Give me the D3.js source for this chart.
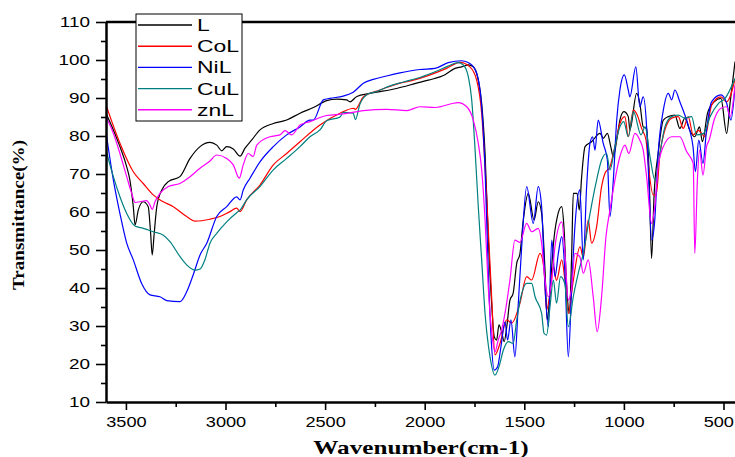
<!DOCTYPE html>
<html>
<head>
<meta charset="utf-8">
<script src="https://cdn.jsdelivr.net/npm/d3@7"></script>
<style>
  body { margin: 0; background: #fff; }
  .series { fill: none; stroke-width: 1.2; }
</style>
</head>
<body>
<svg id="chart" width="735" height="457"></svg>
<script>
// FTIR spectra, values: [wavenumber, transmittance]
var seriesNames = ["L", "CoL", "NiL", "CuL", "znL"];
var seriesColors = ["#000000", "#ff0000", "#0000ff", "#008080", "#ff00ff"];

var dataL = [[3600,86],[3563,81.6],[3530,77.2],[3496,71.9],[3480,68.4],[3463,61.4],[3454,56.6],[3438,60.5],[3413,62.7],[3388,61.4],[3376,54.4],[3368,48.7],[3358,54.4],[3345,61.4],[3320,65.8],[3287,68.0],[3229,69.3],[3178,74.1],[3128,77.2],[3078,78.3],[3044,77.6],[3019,76.1],[2994,77.2],[2961,76.6],[2927,74.7],[2902,76.8],[2869,78.9],[2827,81.6],[2760,83.3],[2693,84.2],[2626,86.0],[2559,87.5],[2492,89.3],[2442,89.7],[2392,89.5],[2375,89.0],[2341,90.4],[2275,91.2],[2141,92.5],[2040,93.9],[1982,94.7],[1898,96.1],[1848,97.8],[1814,98.2],[1781,98.7],[1756,98.2],[1731,94.7],[1714,88.6],[1697,75.4],[1681,53.5],[1664,36],[1651,27.2],[1639,26.3],[1627,30.3],[1614,28.5],[1601,25.9],[1588,29.8],[1572,36.8],[1556,38.6],[1538,46.5],[1522,49],[1505,57.9],[1480,64.9],[1451,57.9],[1430,62.7],[1413,59.6],[1396,44.7],[1385,31.6],[1371,38.6],[1355,50.9],[1334,58.8],[1312,61.4],[1301,56.1],[1287,40.3],[1274,33.3],[1262,49.1],[1254,64.9],[1235,64.9],[1224,60.5],[1212,69.3],[1195,77.2],[1162,78.5],[1120,80.7],[1103,79.4],[1083,80.7],[1066,77.2],[1053,74.6],[1036,78.9],[1020,84.2],[1000,86.4],[978,85.1],[970,81.6],[936,91.2],[920,88.6],[903,82.4],[886,82],[874,71.1],[861,47.8],[848,64.9],[828,75.4],[802,84.2],[777,85.1],[744,85.5],[719,82.0],[694,84.7],[670,81.6],[645,79.8],[620,82.4],[606,78.5],[580,86.0],[547,89.0],[513,89.9],[484,80.7],[467,88.6],[442,99.6]];

var dataCoL = [[3600,88.2],[3530,78.1],[3463,70.6],[3413,67.5],[3363,64.5],[3320,62.9],[3262,61.4],[3195,58.8],[3153,57.6],[3078,58.1],[3028,58.8],[2978,60.1],[2944,61.0],[2927,60.1],[2894,63.2],[2827,67.1],[2760,72.4],[2693,75.4],[2626,78.5],[2526,82.9],[2425,86.0],[2355,87.3],[2349,87.0],[2308,90.3],[2225,92.1],[2124,93.9],[2057,94.7],[1890,97.8],[1823,99.4],[1773,98.2],[1739,94.7],[1714,86.0],[1689,64.0],[1664,37.7],[1647,22.4],[1622,25.4],[1588,31.6],[1563,30.8],[1522,36],[1488,43],[1463,42.1],[1421,49.1],[1401,45],[1388,34.2],[1371,38.6],[1354,45.6],[1338,42],[1312,47.4],[1296,42],[1279,33.3],[1254,42],[1220,50.9],[1204,48],[1179,57.9],[1162,51.8],[1137,56.1],[1112,66.7],[1095,70.2],[1070,71.9],[1045,77.2],[1020,83.3],[995,85.1],[978,79.8],[952,86.8],[933,85.5],[911,82],[889,79],[878,72.8],[853,64.5],[838,64.5],[819,75.4],[794,81.6],[760,84.7],[727,85.1],[702,82],[677,85.1],[652,80.3],[627,81.5],[593,79.8],[559,88.2],[513,90.3],[484,89],[442,95]];

var dataNiL = [[3600,81],[3563,68.4],[3530,59.6],[3496,51.8],[3463,47.4],[3421,41.2],[3379,38.2],[3329,37.7],[3295,36.7],[3229,36.4],[3195,39.0],[3162,43.5],[3128,48.7],[3094,51.8],[3044,58.8],[2994,61.4],[2944,64.0],[2927,63.2],[2911,65.8],[2877,68.9],[2827,73.2],[2760,77.2],[2693,80.3],[2626,82.4],[2576,84.2],[2559,84.2],[2509,89.5],[2476,89.9],[2409,90.5],[2359,91.5],[2308,93.9],[2258,94.9],[2191,95.8],[2124,96.6],[2024,97.5],[1948,97.8],[1882,99.3],[1814,99.8],[1773,99.1],[1739,96.5],[1714,87.7],[1697,71.1],[1681,44.7],[1667,27.2],[1651,18.4],[1634,19.3],[1617,24.6],[1597,31.1],[1584,26.3],[1567,31.6],[1547,21.9],[1530,36],[1513,50.9],[1488,66.7],[1455,57.0],[1430,66.7],[1413,61.4],[1396,40.3],[1379,29.8],[1362,52.6],[1346,43],[1329,49.1],[1312,53.5],[1296,43.9],[1279,21.9],[1262,40.3],[1246,56.1],[1221,65.8],[1204,47.4],[1187,66.7],[1170,78.1],[1157,79.8],[1145,76.3],[1129,84.2],[1104,78.1],[1083,73.7],[1070,58.8],[1053,68.4],[1036,84.2],[1020,92.1],[998,96.1],[978,92.1],[970,90.3],[940,98.2],[920,87.7],[903,90.3],[886,82.4],[874,66.7],[861,52.6],[845,57.9],[828,75.4],[802,86.8],[777,91.2],[760,89.5],[744,92.1],[719,89.0],[685,84.2],[670,81.6],[653,77.2],[641,70.6],[624,78.9],[603,72.8],[585,81.6],[560,89.0],[513,90.8],[484,88.6],[463,84.2],[442,93]];

var dataCuL = [[3600,76.3],[3563,69.3],[3530,64],[3496,59.6],[3454,56.3],[3413,55.7],[3363,54.8],[3312,53.9],[3279,52.2],[3229,48.3],[3195,46.1],[3153,44.7],[3128,45.0],[3103,47.5],[3078,51.8],[3044,54.4],[2994,57.4],[2944,59.8],[2927,60.5],[2894,63.2],[2827,66.7],[2760,71.1],[2693,74.1],[2626,77.2],[2576,79.8],[2526,81.6],[2492,84],[2425,85],[2409,86.2],[2359,86],[2348,84.3],[2325,88.4],[2283,91.1],[2241,91.7],[2174,93.2],[2107,94.2],[2024,95.4],[1948,96.9],[1882,98.4],[1832,99.3],[1806,98.7],[1781,95.6],[1764,89.5],[1748,77.2],[1731,61.4],[1714,47.4],[1697,33.3],[1672,21.9],[1647,17.1],[1627,19.3],[1605,23.7],[1580,25.9],[1556,25.4],[1538,31.6],[1517,37.7],[1488,41.2],[1463,41.2],[1446,37.7],[1413,33.3],[1401,28.1],[1388,27.6],[1371,35.1],[1354,42.1],[1338,36],[1318,43],[1296,41],[1279,29.8],[1254,37.7],[1229,43.9],[1204,49.1],[1170,59.6],[1137,68.4],[1112,73.7],[1087,75.4],[1070,71.1],[1045,77.2],[1020,82.4],[1001,83.8],[978,79.8],[952,86.4],[914,80.3],[894,82.4],[869,74.6],[844,68.4],[819,75.4],[794,82.4],[760,85.1],[727,85.5],[694,84.7],[660,85.1],[635,80.3],[600,80.7],[567,85.1],[525,88.6],[492,89.9],[442,95.2]];

var dataZnL = [[3600,85],[3563,80.7],[3530,75.4],[3496,69.3],[3471,64.9],[3454,62.5],[3429,62.7],[3396,63],[3379,61.8],[3368,60.7],[3354,62.7],[3329,64.9],[3287,66.7],[3229,67.5],[3178,69.3],[3128,71.5],[3078,73.4],[3044,75],[2994,74.1],[2961,72.4],[2931,68.9],[2911,72.4],[2886,75.4],[2861,74.6],[2843,77.6],[2777,79.8],[2727,80.3],[2701,81.4],[2668,80.3],[2626,82.9],[2576,83.8],[2492,85.4],[2409,85.8],[2308,86.7],[2191,87.0],[2090,86.7],[2024,87.7],[1948,87.5],[1832,88.8],[1789,87.7],[1756,84.2],[1731,78.1],[1714,71.1],[1697,57.9],[1681,40.3],[1661,27.2],[1647,23.2],[1631,26.3],[1614,28.9],[1597,33.3],[1572,42.1],[1547,52.6],[1522,52],[1488,57],[1463,54.8],[1430,55.7],[1413,51.8],[1396,42.1],[1379,37.7],[1362,42.1],[1346,50.9],[1312,57.4],[1296,49.1],[1279,36.8],[1262,40.3],[1246,49.1],[1221,48.2],[1204,43.9],[1179,47.4],[1154,37.7],[1134,28.5],[1112,37.7],[1090,53.5],[1070,60.5],[1045,68.4],[1020,74.6],[995,77.6],[975,75.4],[945,80.7],[920,78.9],[903,76.3],[886,69.3],[861,57.0],[845,61.4],[828,71.9],[802,77.2],[760,79.8],[719,79.8],[685,75.9],[652,72.8],[644,49.1],[631,68.4],[620,76.3],[603,69.7],[585,77.2],[572,78.9],[547,84.2],[513,87.3],[484,87.7],[467,85.1],[442,93.4]];

var allSeries = [dataL, dataCoL, dataNiL, dataCuL, dataZnL];

var xTicks = [3500, 3000, 2500, 2000, 1500, 1000, 500];
var xMinorTicks = [3250, 2750, 2250, 1750, 1250, 750];
var yTicks = [10, 20, 30, 40, 50, 60, 70, 80, 90, 100, 110];
var yMinorTicks = [15, 25, 35, 45, 55, 65, 75, 85, 95, 105];

var plot = {left: 106, top: 22, bottom: 402, right: 735};
var stretch = 1.35; // the source picture is stretched sideways

var svg = d3.select("#chart");

var xScale = d3.scaleLinear().domain([3600, 400]).range([plot.left, 743.4]);
var yScale = d3.scaleLinear().domain([10, 110]).range([plot.bottom, plot.top]);

svg.append("clipPath").attr("id", "clip")
  .append("rect")
  .attr("x", plot.left).attr("y", 0)
  .attr("width", plot.right - plot.left).attr("height", plot.bottom);

var line = d3.line()
  .x(function(d) { return xScale(d[0]); })
  .y(function(d) { return yScale(d[1]); })
  .curve(d3.curveMonotoneX);

svg.append("g")
  .attr("clip-path", "url(#clip)")
  .selectAll("path")
  .data(allSeries)
  .enter().append("path")
  .attr("class", "series")
  .attr("d", line)
  .attr("stroke", function(d, i) { return seriesColors[i]; });

// axes
var yAxis = svg.append("g")
  .attr("transform", `translate(${plot.left}, 0)`)
  .call(d3.axisLeft(yScale).tickValues(yTicks).tickFormat(d3.format("d"))
    .tickSize(10).tickSizeOuter(0).tickPadding(6));

svg.append("g")
  .attr("transform", `translate(${plot.left}, 0)`)
  .call(d3.axisLeft(yScale).tickValues(yMinorTicks).tickSize(5).tickFormat(""))
  .call(function(g) { g.select(".domain").remove(); });

var xAxis = svg.append("g")
  .attr("transform", `translate(0, ${plot.bottom})`)
  .call(d3.axisBottom(xScale).tickValues(xTicks).tickFormat(d3.format("d"))
    .tickSize(8).tickSizeOuter(0).tickPadding(7));

svg.append("g")
  .attr("transform", `translate(0, ${plot.bottom})`)
  .call(d3.axisBottom(xScale).tickValues(xMinorTicks).tickSize(5).tickFormat(""))
  .call(function(g) { g.select(".domain").remove(); });

svg.selectAll(".domain").attr("stroke-width", 2.5);
svg.selectAll(".tick line").attr("stroke-width", 1.6);

yAxis.selectAll("text")
  .attr("font-family", "Liberation Sans, Arial, sans-serif")
  .attr("font-size", 14)
  .attr("x", -16 / stretch)
  .attr("transform", `scale(${stretch},1)`);

xAxis.selectAll("text")
  .attr("font-family", "Liberation Sans, Arial, sans-serif")
  .attr("font-size", 14)
  .attr("x", function(d) { return d === 500 ? -4 : 0; })
  .attr("transform", "scale(1.3,1)");

// top frame line
svg.append("line")
  .attr("x1", plot.left).attr("x2", plot.right)
  .attr("y1", yScale(110)).attr("y2", yScale(110))
  .attr("stroke", "#000").attr("stroke-width", 2.5);

// axis titles
svg.append("g")
  .attr("transform", `translate(421, 454) scale(1.4,1)`)
  .append("text")
  .attr("text-anchor", "middle")
  .attr("font-family", "Liberation Serif, Times New Roman, serif")
  .attr("font-weight", "bold")
  .attr("font-size", 18)
  .text("Wavenumber(cm-1)");

svg.append("text")
  .attr("transform", "translate(24, 215) rotate(-90)")
  .attr("text-anchor", "middle")
  .attr("font-family", "Liberation Serif, Times New Roman, serif")
  .attr("font-weight", "bold")
  .attr("font-size", 17)
  .attr("textLength", 150)
  .attr("lengthAdjust", "spacingAndGlyphs")
  .text("Transmittance(%)");

// legend
var legend = svg.append("g");
legend.append("rect")
  .attr("x", 136).attr("y", 14)
  .attr("width", 106).attr("height", 107)
  .attr("fill", "#fff").attr("stroke", "#000").attr("stroke-width", 1);

var rows = legend.selectAll(".row")
  .data(seriesNames)
  .enter().append("g")
  .attr("class", "row")
  .attr("transform", function(d, i) { return `translate(0, ${25 + i * 21.2})`; });

rows.append("line")
  .attr("x1", 138).attr("x2", 192)
  .attr("stroke", function(d, i) { return seriesColors[i]; })
  .attr("stroke-width", 1.4);

rows.append("text")
  .attr("transform", `translate(197, 6) scale(${stretch},1)`)
  .attr("font-family", "Liberation Sans, Arial, sans-serif")
  .attr("font-size", 17)
  .text(function(d) { return d; });
</script>
</body>
</html>
